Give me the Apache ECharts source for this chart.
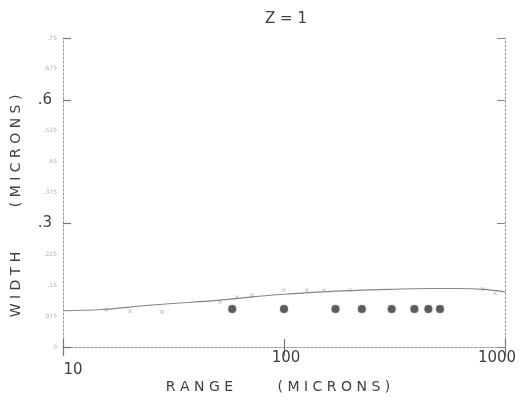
<!DOCTYPE html>
<html>
<head>
<meta charset="utf-8">
<script src="https://cdn.jsdelivr.net/npm/echarts@6/dist/echarts.min.js"></script>
<style>
  html, body { margin: 0; padding: 0; background: #ffffff; }
  #chart { width: 524px; height: 407px; }
</style>
</head>
<body>
<div id="chart"></div>
<script>
// Range ticks (log axis) and the width scale
const rangeTicks = [10, 100, 1000];
const widthMajor = [0.3, 0.6];

// Smooth model curve: [range, width]
const curveRange = [10, 15, 20, 30, 50, 70, 100, 150, 200, 300, 450, 600, 800, 1000];
const curveWidth = [0.088, 0.091, 0.097, 0.105, 0.113, 0.121, 0.128, 0.134, 0.137, 0.140, 0.142, 0.142, 0.140, 0.134];

// Small scattered marks along the curve
const markRange = [15.7, 20.1, 28.1, 51.3, 61.2, 71.6, 100, 127, 152, 199, 794, 901];
const markWidth = [0.091, 0.087, 0.085, 0.109, 0.121, 0.125, 0.138, 0.138, 0.138, 0.138, 0.141, 0.130];

// Measured widths (filled dots)
const dotRange = [58.3, 100, 171, 225, 307, 389, 450, 508];
const dotWidth = [0.092, 0.092, 0.092, 0.092, 0.092, 0.092, 0.092, 0.092];

const zip = (a, b) => a.map((v, i) => [v, b[i]]);
const FONT = 'DejaVu Sans';
const INK = '#404040';
const AXIS = { color: '#999999', width: 1, type: [2, 2] };

const isMajor = v => widthMajor.some(m => Math.abs(m - v) < 1e-6);
const fmtTick = v => {
  const s = v.toFixed(3).replace(/0+$/, '').replace(/\.$/, '');
  return s.startsWith('0') ? s.slice(1) || '0' : s;
};

const chart = echarts.init(document.getElementById('chart'), null, { renderer: 'canvas' });

chart.setOption({
  backgroundColor: '#ffffff',
  animation: false,
  grid: { left: 63, right: 19, top: 38, bottom: 60 },
  xAxis: [
    {
      type: 'log', logBase: 10, min: rangeTicks[0], max: rangeTicks[2], position: 'bottom',
      axisLine: { show: true, lineStyle: AXIS },
      axisTick: { show: true, inside: true, length: 8, lineStyle: { color: '#777', width: 1.2 } },
      minorTick: { show: false },
      splitLine: { show: false },
      axisLabel: {
        margin: 4,
        formatter: v => {
          if (v === rangeTicks[0]) return '{a|' + v + '}';
          if (v === rangeTicks[1]) return '{b|' + v + '}';
          return '{c|' + v + '}';
        },
        rich: {
          a: { fontFamily: FONT, fontSize: 15, color: INK, padding: [12, 0, 0, 20] },
          b: { fontFamily: FONT, fontSize: 15, color: INK, padding: [0, 0, 0, 4] },
          c: { fontFamily: FONT, fontSize: 15, color: INK, padding: [0, 16, 0, 0] }
        }
      }
    },
    {
      type: 'log', logBase: 10, min: rangeTicks[0], max: rangeTicks[2], position: 'top',
      axisLine: { show: true, lineStyle: AXIS },
      axisTick: { show: true, inside: true, length: 9, lineStyle: { color: '#777', width: 1.2 } },
      axisLabel: { show: false },
      splitLine: { show: false }
    }
  ],
  yAxis: [
    {
      type: 'value', min: 0, max: 0.75, interval: 0.075, position: 'left',
      axisLine: { show: true, lineStyle: AXIS },
      axisTick: { show: false },
      splitLine: { show: false },
      axisLabel: {
        margin: 5,
        formatter: v => isMajor(v) ? '{big|' + fmtTick(v) + '}' : '{small|' + fmtTick(v) + '}',
        rich: {
          big: { fontFamily: FONT, fontSize: 15, color: INK, padding: [0, 6, 0, 0] },
          small: { fontFamily: FONT, fontSize: 6, color: '#b4b4b4', padding: [0, 1, 0, 0] }
        }
      }
    },
    {
      type: 'value', min: 0, max: 0.75, interval: 0.3, position: 'left',
      axisLine: { show: false },
      axisTick: { show: true, inside: true, length: 8, lineStyle: { color: '#777', width: 1.2 } },
      axisLabel: { show: false },
      splitLine: { show: false }
    },
    {
      type: 'value', min: 0, max: 0.75, interval: 0.3, position: 'right',
      axisLine: { show: true, lineStyle: AXIS },
      axisTick: { show: true, inside: true, length: 8, lineStyle: { color: '#888', width: 1 } },
      axisLabel: { show: false },
      splitLine: { show: false }
    }
  ],
  series: [
    {
      name: 'model', type: 'line', xAxisIndex: 0, yAxisIndex: 0,
      data: zip(curveRange, curveWidth),
      smooth: 0.4, showSymbol: false,
      lineStyle: { color: '#858585', width: 1.2 }
    },
    {
      name: 'marks', type: 'scatter', xAxisIndex: 0, yAxisIndex: 0,
      data: zip(markRange, markWidth),
      symbol: 'path://M0,0L1,0L5,4L9,0L10,0L10,1L6,5L10,9L10,10L9,10L5,6L1,10L0,10L0,9L4,5L0,1Z',
      symbolSize: 4,
      itemStyle: { color: '#9a9a9a' }
    },
    {
      name: 'measured', type: 'scatter', xAxisIndex: 0, yAxisIndex: 0,
      data: zip(dotRange, dotWidth),
      symbol: 'circle', symbolSize: 8,
      itemStyle: { color: '#474747', shadowBlur: 2, shadowColor: 'rgba(0,0,0,0.4)' }
    }
  ],
  graphic: [
    {
      type: 'text', x: 286, y: 19,
      style: { text: 'Z = 1', fontFamily: FONT, fontSize: 15, fill: INK, align: 'center', verticalAlign: 'middle' }
    },
    {
      type: 'text', x: 278, y: 387,
      style: { text: 'R A N G E          ( M I C R O N S )', fontFamily: FONT, fontSize: 14, fill: INK, align: 'center', verticalAlign: 'middle' }
    },
    {
      type: 'text', x: 16, y: 206, rotation: Math.PI / 2,
      style: { text: 'W I D T H          ( M I C R O N S )', fontFamily: FONT, fontSize: 14, fill: INK, align: 'center', verticalAlign: 'middle' }
    }
  ]
});
</script>
</body>
</html>
